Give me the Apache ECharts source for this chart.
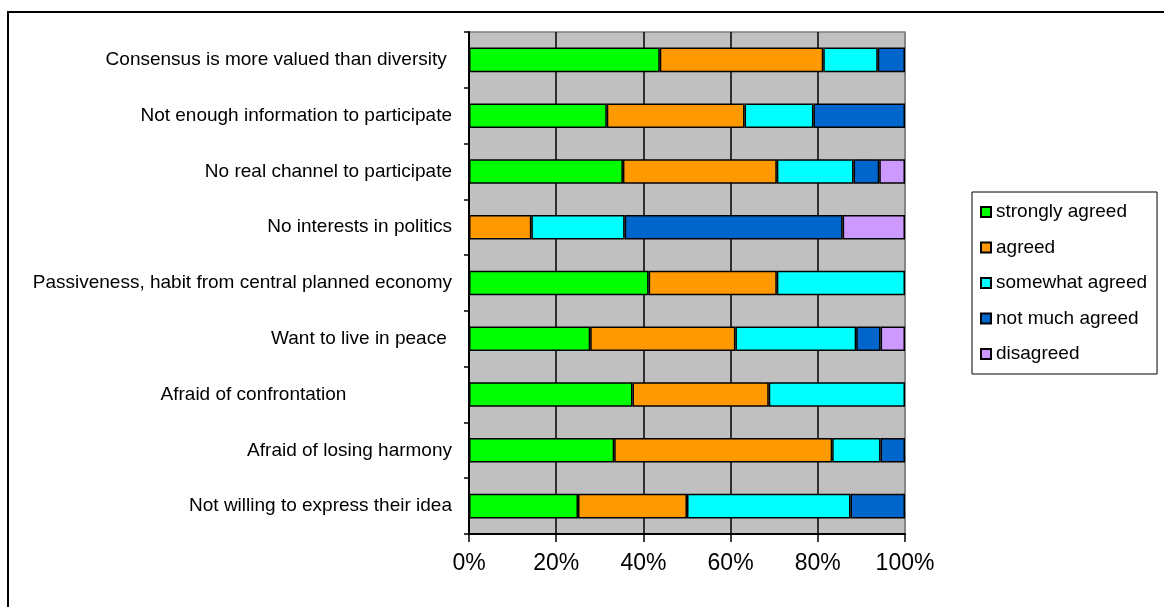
<!DOCTYPE html>
<html>
<head>
<meta charset="utf-8">
<script src="https://cdn.jsdelivr.net/npm/echarts@6/dist/echarts.min.js"></script>
<style>
html,body{margin:0;padding:0;background:#fff;}
#chart{width:1164px;height:607px;}
</style>
</head>
<body>
<div id="chart"></div>
<script>
const categories = [
  "Consensus is more valued than diversity ",
  "Not enough information to participate",
  "No real channel to participate",
  "No interests in politics",
  "Passiveness, habit from central planned economy",
  "Want to live in peace ",
  "Afraid of confrontation                    ",
  "Afraid of losing harmony",
  "Not willing to express their idea"
];
const seriesNames = ["strongly agreed", "agreed", "somewhat agreed", "not much agreed", "disagreed"];
const stronglyAgreed = [43.75, 31.6, 35.3, 0, 41.2, 27.8, 37.5, 33.3, 25.0];
const agreed         = [37.5, 31.6, 35.3, 14.3, 29.4, 33.3, 31.25, 50.0, 25.0];
const somewhatAgreed = [12.5, 15.8, 17.6, 21.4, 29.4, 27.7, 31.25, 11.1, 37.5];
const notMuchAgreed  = [6.25, 21.0, 5.9, 50.0, 0, 5.6, 0, 5.6, 12.5];
const disagreed      = [0, 0, 5.9, 14.3, 0, 5.6, 0, 0, 0];
const tickValues = [0, 20, 40, 60, 80, 100];
const colors = ["#00FF00", "#FF9900", "#00FFFF", "#0066CC", "#CC99FF"];

const valueSets = [stronglyAgreed, agreed, somewhatAgreed, notMuchAgreed, disagreed];
const chart = echarts.init(document.getElementById('chart'), null, {renderer: 'canvas'});
const font = "'Liberation Sans', Arial, sans-serif";

const series = valueSets.map((vals, i) => ({
  name: seriesNames[i],
  type: 'bar',
  stack: 'total',
  barCategoryGap: '56%',
  data: vals.map(v => v === 0 ? null : v),
  itemStyle: {color: colors[i], borderColor: '#000', borderWidth: 1.5},
  emphasis: {disabled: true},
  animation: false
}));

chart.setOption({
  animation: false,
  backgroundColor: '#fff',
  textStyle: {fontFamily: font},
  graphic: [{
    type: 'rect',
    shape: {x: 8, y: 12, width: 1200, height: 700},
    style: {fill: null, stroke: '#000', lineWidth: 2},
    silent: true
  }],
  grid: {
    left: 469, right: 259, top: 32, bottom: 73,
    show: true, backgroundColor: '#C0C0C0', borderColor: '#808080', borderWidth: 1.5,
    containLabel: false
  },
  legend: {
    orient: 'vertical',
    left: 972, top: 192,
    data: seriesNames,
    icon: 'rect',
    itemWidth: 10, itemHeight: 10,
    itemGap: 15.5,
    padding: [10, 10, 10, 8],
    borderColor: '#000', borderWidth: 1,
    textStyle: {fontSize: 19, color: '#000', fontFamily: font, lineHeight: 20},
    selectedMode: false
  },
  xAxis: {
    type: 'value',
    min: tickValues[0], max: tickValues[tickValues.length - 1], interval: 20,
    axisLabel: {formatter: '{value}%', fontSize: 23, color: '#000', margin: 18, fontFamily: font},
    axisLine: {show: true, lineStyle: {color: '#000', width: 2}},
    axisTick: {show: true, length: 8, lineStyle: {color: '#000', width: 1.5}},
    splitLine: {show: true, lineStyle: {color: ['#000', '#000', '#000', '#000', '#000', '#808080'], width: 1.5}}
  },
  yAxis: {
    type: 'category',
    inverse: true,
    data: categories,
    axisLabel: {fontSize: 19, color: '#000', margin: 17, fontFamily: font},
    axisLine: {show: true, lineStyle: {color: '#000', width: 2}},
    axisTick: {show: true, length: 5, lineStyle: {color: '#000', width: 1.5}},
    splitLine: {show: false}
  },
  series: series
});
</script>
</body>
</html>
